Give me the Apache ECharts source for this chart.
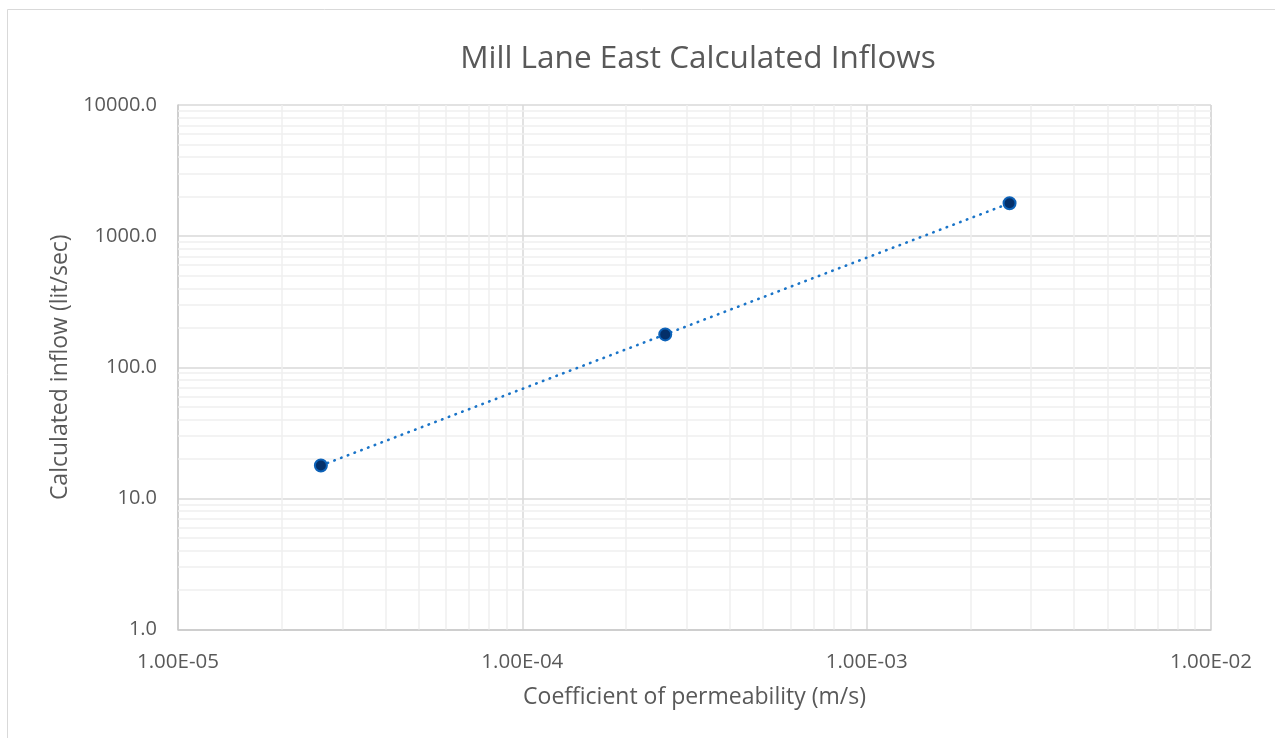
<!DOCTYPE html>
<html>
<head>
<meta charset="utf-8">
<title>Mill Lane East Calculated Inflows</title>
<script src="https://cdn.jsdelivr.net/npm/echarts@6/dist/echarts.min.js"></script>
<style>
  html, body { margin: 0; padding: 0; background: #ffffff; }
  #chart { width: 1275px; height: 738px; }
</style>
</head>
<body>
<div id="chart"></div>
<script>
// Coefficient of permeability (m/s) and the calculated inflow for each case
const permeability = [2.6e-5, 2.6e-4, 2.6e-3];
const inflow = [17.8, 178, 1780];

// Axis ranges (decades) and the sub-decade gridline multipliers
const xRange = [1e-5, 1e-2];
const yRange = [1, 10000];
const xDecades = [1e-5, 1e-4, 1e-3];
const yDecades = [1, 10, 100, 1000];
const minorSteps = [2, 3, 4, 5, 6, 7, 8, 9];

const textColor = '#595959';
const fontFamily = '"Open Sans", "Liberation Sans", sans-serif';

function minorValues(decades) {
  const out = [];
  decades.forEach(function (d) {
    minorSteps.forEach(function (m) { out.push(m * d); });
  });
  return out;
}

function sciLabel(v) {
  const exp = Math.round(Math.log10(v));
  const mant = v / Math.pow(10, exp);
  const sign = exp < 0 ? '-' : '+';
  const e = Math.abs(exp);
  return mant.toFixed(2) + 'E' + sign + (e < 10 ? '0' : '') + e;
}

// Sub-decade gridlines as explicit segments spanning the plot
const minorLines = []
  .concat(minorValues(xDecades).map(function (v) {
    return [{ coord: [v, yRange[0]] }, { coord: [v, yRange[1]] }];
  }))
  .concat(minorValues(yDecades).map(function (v) {
    return [{ coord: [xRange[0], v] }, { coord: [xRange[1], v] }];
  }));

const chart = echarts.init(document.getElementById('chart'), null, { renderer: 'canvas' });

chart.setOption({
  animation: false,
  backgroundColor: '#ffffff',
  textStyle: { fontFamily: fontFamily },
  graphic: [{
    type: 'rect',
    shape: { x: 7.5, y: 9.5, width: 1300, height: 800 },
    style: { fill: 'none', stroke: '#d9d9d9', lineWidth: 1 },
    silent: true,
    z: -10
  }],
  title: {
    text: 'Mill Lane East Calculated Inflows',
    left: 693,
    top: 38,
    textAlign: 'center',
    textStyle: { color: textColor, fontSize: 31.5, fontWeight: 'normal', fontFamily: fontFamily }
  },
  grid: { left: 178, top: 105, right: 64, bottom: 108.5, containLabel: false },
  xAxis: {
    type: 'log',
    logBase: 10,
    min: xRange[0],
    max: xRange[1],
    name: 'Coefficient of permeability (m/s)',
    nameLocation: 'middle',
    nameGap: 56,
    nameTextStyle: { color: textColor, fontSize: 23, fontFamily: fontFamily },
    axisLine: { show: true, lineStyle: { color: '#c8c8c8', width: 1.5 } },
    axisTick: { show: false },
    axisLabel: {
      color: textColor, fontSize: 20.5, margin: 22, fontFamily: fontFamily,
      formatter: function (v) { return sciLabel(v); }
    },
    splitLine: { show: true, lineStyle: { color: '#d9d9d9', width: 1.5 } }
  },
  yAxis: {
    type: 'log',
    logBase: 10,
    min: yRange[0],
    max: yRange[1],
    name: 'Calculated inflow (lit/sec)',
    nameLocation: 'middle',
    nameRotate: 90,
    nameGap: 106,
    nameTextStyle: { color: textColor, fontSize: 23, fontFamily: fontFamily },
    axisLine: { show: true, lineStyle: { color: '#c8c8c8', width: 1.5 } },
    axisTick: { show: false },
    axisLabel: {
      color: textColor, fontSize: 20, margin: 21, fontFamily: fontFamily,
      formatter: function (v) { return v.toFixed(1); }
    },
    splitLine: { show: true, lineStyle: { color: '#d9d9d9', width: 1.5 } }
  },
  series: [
    {
      // sub-decade gridlines
      name: 'minor-grid',
      type: 'line',
      data: [],
      silent: true,
      z: 0,
      markLine: {
        silent: true,
        symbol: ['none', 'none'],
        label: { show: false },
        emphasis: { disabled: true },
        lineStyle: { color: '#efefef', width: 1.5, type: 'solid' },
        data: minorLines,
        animation: false
      }
    },
    {
      name: 'Calculated inflow',
      type: 'line',
      data: permeability.map(function (k, i) { return [k, inflow[i]]; }),
      z: 5,
      symbol: 'circle',
      symbolSize: 12,
      lineStyle: { color: '#1a74c8', width: 2.6, type: [0.5, 6.7], cap: 'round' },
      itemStyle: { color: '#04306a', borderColor: '#0d62b8', borderWidth: 2 }
    }
  ]
});
</script>
</body>
</html>
